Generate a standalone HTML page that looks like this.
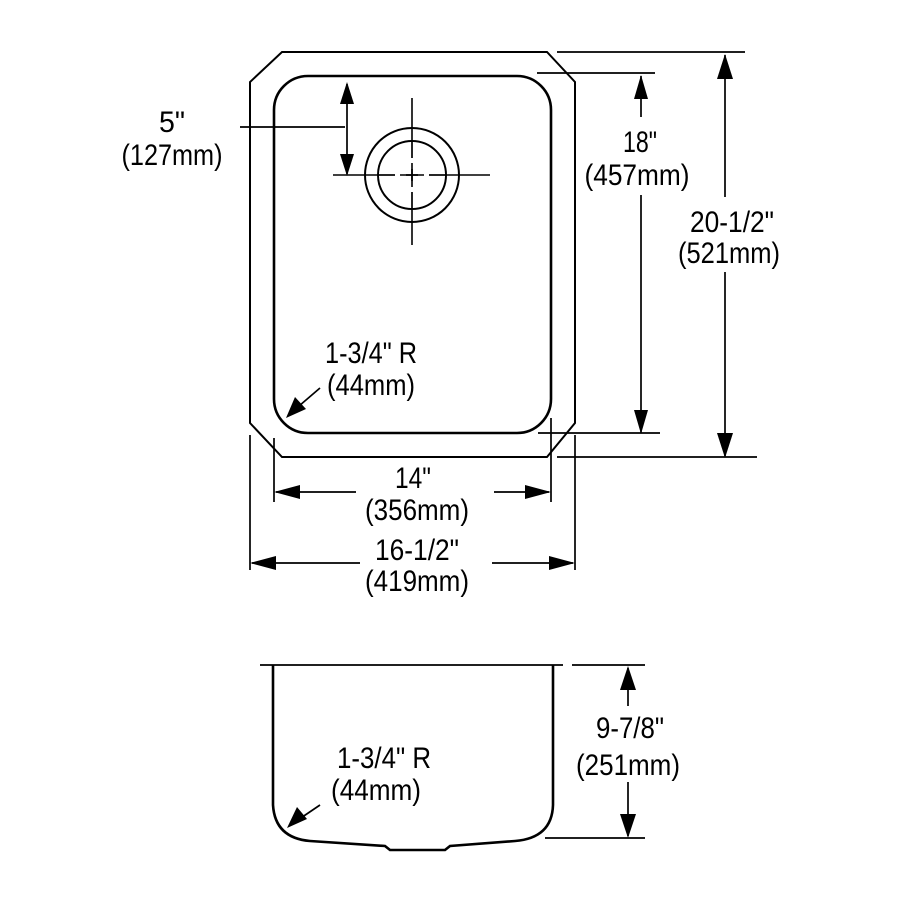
<!DOCTYPE html>
<html><head><meta charset="utf-8"><style>
html,body{margin:0;padding:0;background:#fff}
svg{display:block}
text{font-family:"Liberation Sans Narrow","Liberation Sans",sans-serif;font-size:30px;fill:#000}
</style></head><body>
<svg width="900" height="900" viewBox="0 0 900 900" xmlns="http://www.w3.org/2000/svg">
<g fill="none" stroke="#000" stroke-width="2">
<path d="M282,52 L547,52 L575,82 L575,423 L547,457 L282,457 L250,423 L250,82 Z"/>
<rect x="274" y="76" width="277" height="357" rx="34" ry="34" stroke-width="2.6"/>
<circle cx="412" cy="175" r="47"/>
<circle cx="412" cy="175" r="34"/>
<line x1="333" y1="175" x2="490" y2="175" stroke-width="1.6"/>
<line x1="412" y1="98" x2="412" y2="245" stroke-width="1.6"/>
</g>
<g stroke="#fff" stroke-width="4">
<line x1="379" y1="175" x2="400" y2="175"/><line x1="424" y1="175" x2="445" y2="175"/>
<line x1="412" y1="142" x2="412" y2="163"/><line x1="412" y1="187" x2="412" y2="208"/>
</g>
<g stroke="#000" stroke-width="1.7" fill="none">
<line x1="379" y1="175" x2="395" y2="175"/><line x1="406" y1="175" x2="418" y2="175"/><line x1="429" y1="175" x2="445" y2="175"/>
<line x1="412" y1="142" x2="412" y2="158"/><line x1="412" y1="169" x2="412" y2="181"/><line x1="412" y1="192" x2="412" y2="208"/>
<line x1="240" y1="127" x2="345" y2="127"/>
<line x1="347" y1="84" x2="347" y2="174"/>
<line x1="557" y1="52" x2="745" y2="52"/>
<line x1="537" y1="73" x2="655" y2="73"/>
<line x1="538" y1="433" x2="660" y2="433"/>
<line x1="557" y1="457" x2="757" y2="457"/>
<line x1="641" y1="76" x2="641" y2="117"/>
<line x1="641" y1="195" x2="641" y2="433"/>
<line x1="725" y1="55" x2="725" y2="197"/>
<line x1="725" y1="272" x2="725" y2="456"/>
<line x1="274" y1="438" x2="274" y2="502"/>
<line x1="551" y1="418" x2="551" y2="502"/>
<line x1="250" y1="435" x2="250" y2="570"/>
<line x1="575" y1="435" x2="575" y2="570"/>
<line x1="276" y1="492" x2="356" y2="492"/>
<line x1="494" y1="492" x2="549" y2="492"/>
<line x1="252" y1="563" x2="360" y2="563"/>
<line x1="492" y1="563" x2="573" y2="563"/>
<line x1="320" y1="388" x2="292" y2="412"/>
<line x1="260" y1="665" x2="563" y2="665"/>
<line x1="572" y1="665" x2="645" y2="665"/>
<line x1="545" y1="838" x2="645" y2="838"/>
<line x1="628" y1="668" x2="628" y2="706"/>
<line x1="628" y1="782" x2="628" y2="836"/>
<line x1="320" y1="805" x2="292" y2="824"/>
</g>
<path d="M273,665 L273,805 Q275,838 310,841 L385,846 L390,850 L445,850 L450,846 L515,841 Q552,838 553,805 L553,665" fill="none" stroke="#000" stroke-width="2.6"/>
<g fill="#000">
<path d="M347,82 L340,104 L354,104 Z"/>
<path d="M347,176 L340,154 L354,154 Z"/>
<path d="M641,75 L634,99 L648,99 Z"/>
<path d="M641,434 L634,410 L648,410 Z"/>
<path d="M725,54 L717,79 L733,79 Z"/>
<path d="M725,458 L717,433 L733,433 Z"/>
<path d="M274,492 L300,485 L300,499 Z"/>
<path d="M551,492 L525,485 L525,499 Z"/>
<path d="M250,563 L276,556 L276,570 Z"/>
<path d="M575,563 L549,556 L549,570 Z"/>
<path d="M286,418 L295,397 L306,409 Z"/>
<path d="M628,666 L620,690 L636,690 Z"/>
<path d="M628,838 L620,814 L636,814 Z"/>
<path d="M287,828 L297,807 L307,819 Z"/>
</g>
<g text-anchor="middle">
<text x="172" y="132" textLength="26" lengthAdjust="spacingAndGlyphs">5"</text>
<text x="172" y="165" textLength="101" lengthAdjust="spacingAndGlyphs">(127mm)</text>
<text x="640" y="152" textLength="34" lengthAdjust="spacingAndGlyphs">18"</text>
<text x="637" y="185" textLength="105" lengthAdjust="spacingAndGlyphs">(457mm)</text>
<text x="732" y="232" textLength="84" lengthAdjust="spacingAndGlyphs">20-1/2"</text>
<text x="729" y="263" textLength="102" lengthAdjust="spacingAndGlyphs">(521mm)</text>
<text x="413" y="488" textLength="36" lengthAdjust="spacingAndGlyphs">14"</text>
<text x="417" y="520" textLength="104" lengthAdjust="spacingAndGlyphs">(356mm)</text>
<text x="417" y="560" textLength="84" lengthAdjust="spacingAndGlyphs">16-1/2"</text>
<text x="417" y="591" textLength="104" lengthAdjust="spacingAndGlyphs">(419mm)</text>
<text x="371" y="363" textLength="92" lengthAdjust="spacingAndGlyphs">1-3/4" R</text>
<text x="371" y="395" textLength="88" lengthAdjust="spacingAndGlyphs">(44mm)</text>
<text x="384" y="768" textLength="94" lengthAdjust="spacingAndGlyphs">1-3/4" R</text>
<text x="376" y="800" textLength="90" lengthAdjust="spacingAndGlyphs">(44mm)</text>
<text x="630" y="738" textLength="68" lengthAdjust="spacingAndGlyphs">9-7/8"</text>
<text x="628" y="775" textLength="104" lengthAdjust="spacingAndGlyphs">(251mm)</text>
</g>
</svg>
</body></html>
